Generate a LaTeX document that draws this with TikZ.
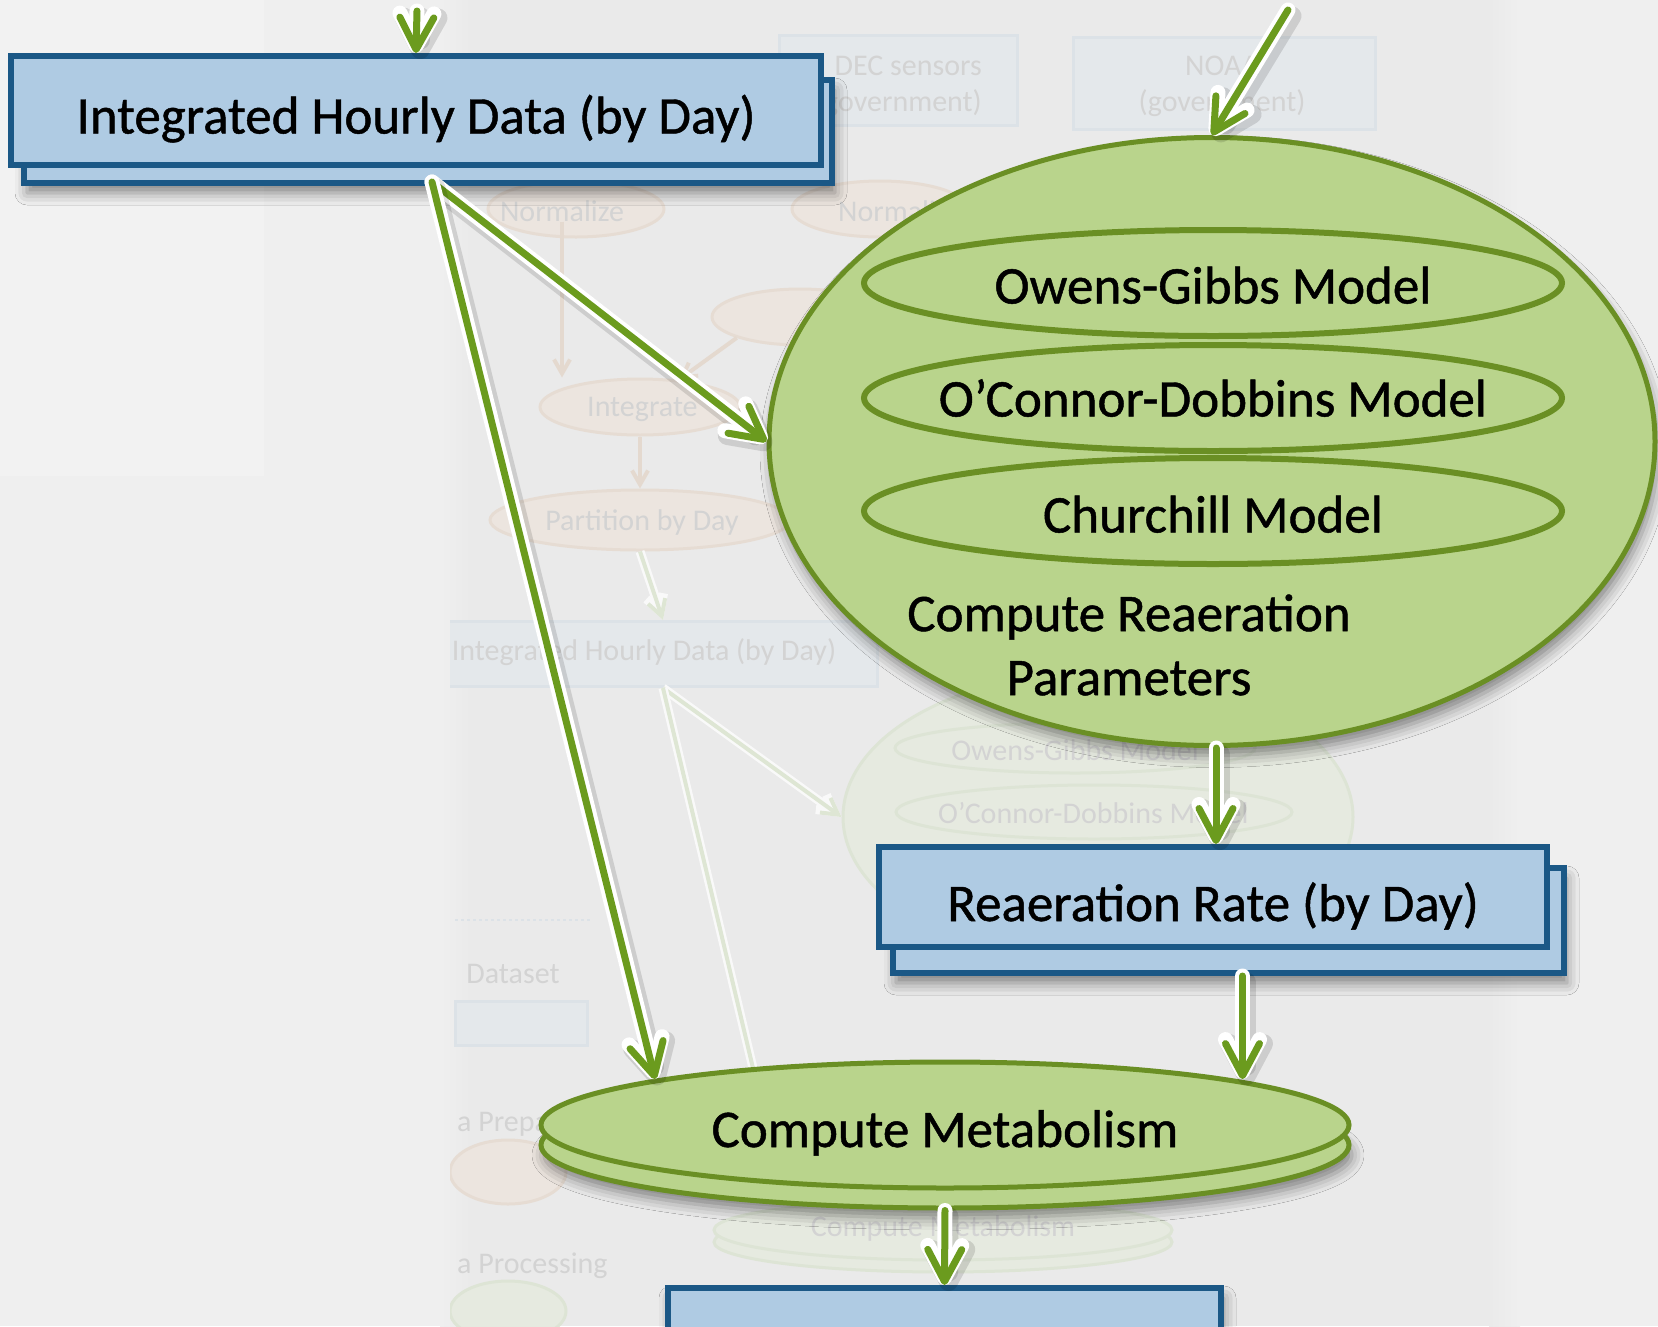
\documentclass[tikz,border=0pt]{standalone}
\usepackage{fontspec}
\setmainfont{Carlito}
\newfontfamily\mfont{Carlito}[RawFeature={embolden=0.9}]
\usetikzlibrary{arrows.meta,shapes.geometric,shadows.blur,calc}
\definecolor{bgc}{HTML}{EFEFEF}
\definecolor{slidec}{HTML}{EAEAEA}
\definecolor{boxf}{HTML}{AFCBE3}
\definecolor{boxb}{HTML}{1B5886}
\definecolor{gf}{HTML}{B9D48C}
\definecolor{gb}{HTML}{6A8F24}
\definecolor{ag}{HTML}{6B9B1E}
\definecolor{fboxf}{HTML}{E4E8EB}
\definecolor{fboxb}{HTML}{DCE2E7}
\definecolor{fellf}{HTML}{ECE5DF}
\definecolor{fellb}{HTML}{E6DCD3}
\definecolor{fgf}{HTML}{E6EAE0}
\definecolor{fgb}{HTML}{DDE4D5}
\definecolor{ftx}{HTML}{D3D3D3}
\definecolor{farrc}{HTML}{DEE6D4}
\definecolor{flinec}{HTML}{E4D9CF}
\newcommand{\dn}[2]{\makebox[0pt]{\raisebox{-#1pt}[0pt][0pt]{#2}}}
\begin{document}
\begin{tikzpicture}[x=1pt,y=-1pt,
  box/.style={rectangle, draw=boxb, line width=6pt, fill=boxf, inner sep=0pt, font=\mfont\fontsize{53}{63}\selectfont},
  gell/.style={ellipse, draw=gb, line width=5pt, fill=gf, inner sep=0pt, font=\mfont\fontsize{53}{63}\selectfont},
  shad/.style={blur shadow={shadow xshift=3pt, shadow yshift=-10pt, shadow blur radius=12pt, shadow opacity=45}},
  tipa/.style={-{Straight Barb[round,length=32pt,width=34pt]}},
  arr/.style={draw=ag, line width=7pt, line cap=round, line join=round, tipa,
    preaction={draw=black, draw opacity=0.12, line width=19pt, line cap=round, line join=round, transform canvas={shift={(4pt,-6pt)}}, tipa},
    preaction={draw=white, line width=15pt, line cap=round, line join=round, tipa}},
  fbox/.style={rectangle, draw=fboxb, line width=3pt, fill=fboxf, inner sep=0pt},
  fell/.style={ellipse, draw=fellb, line width=3pt, fill=fellf, inner sep=0pt},
  fgell/.style={ellipse, draw=fgb, line width=3pt, fill=fgf, inner sep=0pt},
  ftext/.style={text=ftx, font=\fontsize{30}{36}\selectfont, inner sep=0pt},
  fline/.style={draw=flinec, line width=4pt, -{Straight Barb[length=14pt,width=16pt]}},
  farr/.style={draw=farrc, line width=4pt, -{Straight Barb[length=16pt,width=18pt]}, preaction={draw=white!60!bgc, line width=9pt}},
  mtext/.style={font=\mfont\fontsize{53}{64}\selectfont, inner sep=0pt, align=center}
]
\useasboundingbox (0,0) rectangle (1658,1326);
\clip (0,0) rectangle (1658,1326);
% background
\fill[bgc] (0,0) rectangle (1658,1326);
\fill[white!20!bgc] (0,0) rectangle (264,476);
\fill[slidec] (470,0) rectangle (1490,1326);
\shade[left color=bgc, right color=slidec] (440,0) rectangle (471,1326);
\shade[left color=slidec, right color=bgc] (1489,0) rectangle (1520,1326);
% faint slide content
\begin{scope}
\clip (450,0) rectangle (1500,1326);
\node[fbox, minimum width=238pt, minimum height=90pt] (fdec) at (898,80) {};
\node[ftext, anchor=east] (fdec1) at (982,66) {DEC sensors};
\node[ftext, anchor=east] (fdec2) at (982,103) {(government)};
\node[fbox, minimum width=302pt, minimum height=92pt] (fnoaa) at (1224,83) {};
\node[ftext] (fnoaa1) at (1222,66) {NOAA};
\node[ftext] (fnoaa2) at (1222,103) {(government)};
\node[fell, minimum width=176pt, minimum height=56pt] (fn1) at (576,209) {};
\node[ftext] (fn1t) at (562,211) {Normalize};
\node[fell, minimum width=176pt, minimum height=56pt] (fn2) at (880,209) {};
\node[ftext, anchor=west] (fn2t) at (838,211) {Normalize};
\node[fell, minimum width=176pt, minimum height=56pt] (fn3) at (800,317) {};
\node[fell, minimum width=200pt, minimum height=56pt] (fint) at (640,407) {};
\node[ftext, anchor=west] (fintt) at (587,409) {Integrate};
\node[fell, minimum width=300pt, minimum height=60pt] (fpart) at (640,520) {};
\node[ftext] (fpartt) at (642,522) {Partition by Day};
\node[fbox, minimum width=429pt, minimum height=65pt] (fihd) at (663,654) {};
\node[ftext] (fihdt) at (644,652) {Integrated Hourly Data (by Day)};
\draw[fline] (fn1t.south) -- (fn1t.south |- fint.north);
\draw[fline] (fn3.south west) -- (fint.35);
\draw[fline] (fint.south) -- (fpart.north);
\draw[farr] (fpart.south) -- (fihd.north);
\node[fgell, minimum width=510pt, minimum height=290pt] (fbig) at (1098,817) {};
\node[fgell, minimum width=360pt, minimum height=50pt] (fog) at (1075,748) {};
\node[ftext] (fogt) at (1075,750) {Owens-Gibbs Model};
\node[fgell, minimum width=396pt, minimum height=54pt] (foc) at (1094,812) {};
\node[ftext, anchor=west] (foct) at (938,813) {O’Connor-Dobbins Model};
\node[ftext] (fds) at (513,974) {Dataset};
\node[fbox, minimum width=132pt, minimum height=44pt] (fdsb) at (521,1023) {};
\draw[fboxb, line width=2pt, dashed] (455,920) -- (592,920);
\node[ftext, anchor=west] (fprep) at (457,1124) {a Prepa};
\node[ftext, anchor=west] (fproc) at (457,1266) {a Processing};
\node[fell, minimum width=116pt, minimum height=64pt] (fo1) at (508,1172) {};
\node[fgell, minimum width=116pt, minimum height=60pt] (fo2) at (508,1311) {};
\node[fgell, minimum width=458pt, minimum height=60pt] (fcmb) at (943,1242) {};
\node[fgell, minimum width=458pt, minimum height=60pt] (fcm) at (943,1230) {};
\node[ftext] (fcmt) at (943,1228) {Compute Metabolism};
\coordinate (fend) at (770,1140);
\draw[farr] (fihd.south) -- (fbig.west);
\draw[draw=farrc, line width=4pt, preaction={draw=white!60!bgc, line width=9pt}] (fihd.south) -- (fend);
\end{scope}
% main content
\node[box, shad, minimum width=808pt, minimum height=103pt] (ihdb) at (428,131.5) {};
\node[box, minimum width=810pt, minimum height=109pt] (ihd) at (416,110.5) {\dn{23}{Integrated Hourly Data (by Day)}};
\node[gell, shad, minimum width=886pt, minimum height=608pt] (big) at (1212,441.5) {};
\node[gell, line width=6pt, minimum width=698pt, minimum height=106pt] (og) at (1213,283) {\dn{20.5}{Owens-Gibbs Model}};
\node[gell, line width=6pt, minimum width=698pt, minimum height=106pt] (oc) at (1213,398) {\dn{18.5}{O’Connor-Dobbins Model}};
\node[gell, line width=6pt, minimum width=698pt, minimum height=106pt] (ch) at (1213,511) {\dn{21.5}{Churchill Model}};
\node[mtext] (crp) at (1129,645) {Compute Reaeration\\Parameters};
\node[box, shad, minimum width=671pt, minimum height=105pt] (rrb) at (1228.5,920.5) {};
\node[box, minimum width=668pt, minimum height=100pt] (rr) at (1213,897) {\dn{24}{Reaeration Rate (by Day)}};
\node[gell, shad, minimum width=808pt, minimum height=126pt] (cmb) at (945,1145) {};
\node[gell, minimum width=808pt, minimum height=126pt] (cm) at (945,1125) {\dn{22}{Compute Metabolism}};
\node[box, shad, minimum width=553pt, minimum height=112pt] (out) at (944.5,1344) {};
% connectors
\coordinate (in1) at (417,11);
\coordinate (in2) at (1288,10);
\coordinate (ihdout) at (432,182);
\draw[arr] (in1) -- (ihd.north);
\draw[arr] (in2) -- (big.north);
\draw[arr] (ihdout) -- (big.west);
\draw[arr] (ihdout) -- (cm.171);
\draw[arr] ([xshift=4pt]big.south) -- ([xshift=4pt]big.south |- rr.north);
\draw[arr] ([xshift=14pt]rrb.south) -- ([xshift=14pt]rrb.south |- cm.9);
\draw[arr] (cmb.south) -- (out.north);
\end{tikzpicture}
\end{document}
